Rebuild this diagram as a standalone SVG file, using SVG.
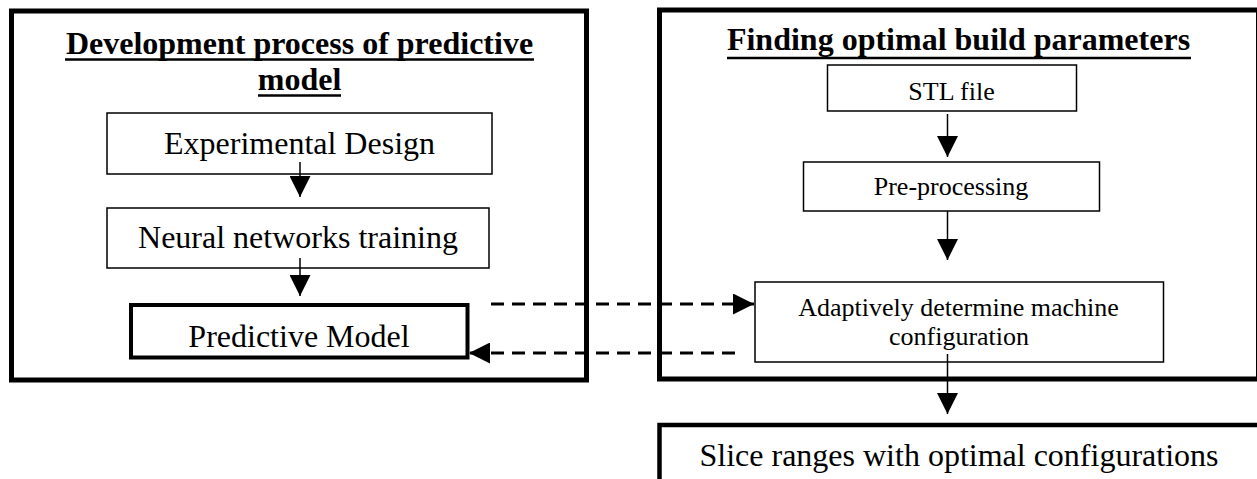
<svg xmlns="http://www.w3.org/2000/svg" width="1257" height="479" viewBox="0 0 1257 479">
<defs>
<style>
.frame{fill:#fff;stroke:#000;stroke-width:5}
.box{fill:#fff;stroke:#000;stroke-width:1.5}
.bold{fill:#fff;stroke:#000;stroke-width:4}
.t{font-family:"Liberation Serif","Times New Roman",serif;fill:#000;text-anchor:middle}
.h{font-weight:bold;font-size:32px}
.l{font-size:32px}
.s{font-size:26px}
.ul{stroke:#000;stroke-width:2.5}
.arr{stroke:#000;stroke-width:1.5;fill:none;marker-end:url(#ah)}
.dash{stroke:#000;stroke-width:3;fill:none;stroke-dasharray:13 8;marker-end:url(#ah)}
</style>
<marker id="ah" markerUnits="userSpaceOnUse" markerWidth="21" markerHeight="21" refX="21" refY="10.5" orient="auto">
<path d="M0,0 L21,10.5 L0,21 z" fill="#000"/>
</marker>
</defs>
<rect width="1257" height="479" fill="#fff"/>
<g id="left-panel">
<rect class="frame" x="11.5" y="11" width="575" height="369"/>
<text class="t h" x="299.5" y="53.5">Development process of predictive</text>
<line class="ul" x1="65" y1="59.5" x2="534" y2="59.5"/>
<text class="t h" x="299.5" y="90">model</text>
<line class="ul" x1="258" y1="95.5" x2="341" y2="95.5"/>
</g>
<g id="right-panel">
<rect class="frame" x="659.5" y="10" width="599" height="369"/>
<text class="t h" x="958.5" y="50">Finding optimal build parameters</text>
<line class="ul" x1="727" y1="58" x2="1191" y2="58"/>
</g>
<g id="experimental-design">
<rect class="box" x="107" y="113" width="385" height="61"/>
<text class="t l" x="299.5" y="154">Experimental Design</text>
</g>
<g id="neural-networks-training">
<rect class="box" x="107" y="208" width="382" height="60"/>
<text class="t l" x="298" y="248">Neural networks training</text>
</g>
<g id="predictive-model">
<rect class="bold" x="131" y="305" width="336.5" height="52.5"/>
<text class="t l" x="299" y="346.5">Predictive Model</text>
</g>
<g id="stl-file">
<rect class="box" x="827.5" y="65" width="249" height="46"/>
<text class="t s" x="951.5" y="100">STL file</text>
</g>
<g id="pre-processing">
<rect class="box" x="803.5" y="162" width="296" height="49"/>
<text class="t s" x="951" y="195">Pre-processing</text>
</g>
<g id="adaptive-configuration">
<rect class="box" x="755" y="282" width="408.5" height="80"/>
<text class="t s" x="958.5" y="316">Adaptively determine machine</text>
<text class="t s" x="959" y="345">configuration</text>
</g>
<g id="slice-ranges">
<rect class="bold" x="659.5" y="425" width="601" height="60" style="stroke-width:4.5"/>
<text class="t l" x="959" y="466">Slice ranges with optimal configurations</text>
</g>
<g id="connectors">
<line class="arr" x1="300" y1="162" x2="300" y2="197"/>
<line class="arr" x1="300" y1="258" x2="300" y2="296"/>
<line class="arr" x1="947.5" y1="114" x2="947.5" y2="157"/>
<line class="arr" x1="947.5" y1="211" x2="947.5" y2="260"/>
<line class="arr" x1="947.5" y1="354" x2="947.5" y2="414"/>
<line class="dash" x1="491" y1="304" x2="754" y2="304"/>
<line class="dash" x1="735" y1="353" x2="469" y2="353"/>
</g>
</svg>
